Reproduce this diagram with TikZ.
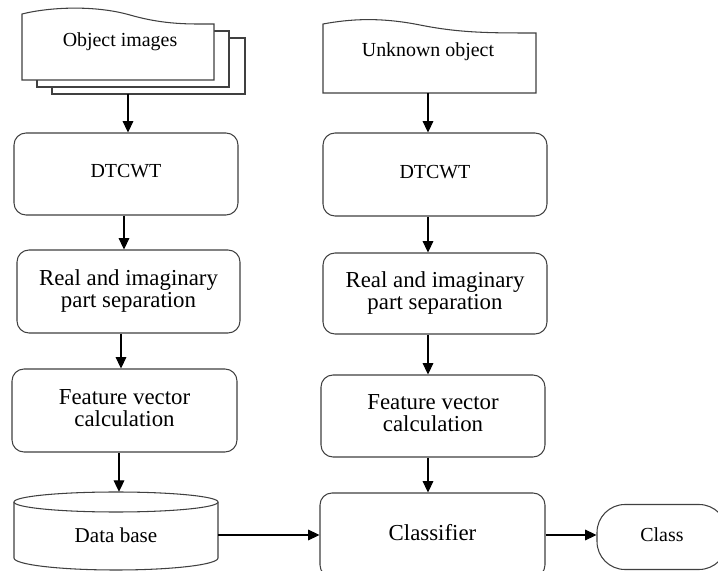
\documentclass[tikz,border=0pt]{standalone}
\usepackage{fontspec}
\setmainfont{Liberation Serif}
\usetikzlibrary{arrows.meta,shapes.misc}
\def\px{0.03cm}
\tikzset{
  >={Triangle[length=3.4mm,width=3.2mm]},
  box/.style = {draw=black!75, line width=0.9pt, rounded corners=12*\px, align=center, fill=white, inner sep=0pt, text depth=0.45em},
  big/.style = {font=\fontsize{19.5}{19}\selectfont},
  doc/.style = {draw=black!75, line width=0.9pt, fill=white},
  term/.style = {draw=black!75, line width=0.9pt, rounded corners=28*\px, align=center, fill=white, inner sep=0pt, text depth=0.4em},
  arrow/.style = {->, line width=0.9pt},
  txt/.style = {align=center, inner sep=0pt},
}

\begin{document}
\begin{tikzpicture}[x=\px, y=-\px, font=\fontsize{17}{20}\selectfont]
  \fill[white] (0,0) rectangle (718,571);
  \useasboundingbox (0,0) rectangle (718,571);
  \clip (0,0) rectangle (718,571);

  % ----------------------------------------------------------------------
  % Left column: training
  % ----------------------------------------------------------------------
  % stacked documents
  \draw[doc] (52,38) rectangle (245,94);
  \draw[doc] (37,31) rectangle (229,87);
  \draw[doc] (22,80) -- (22,14) .. controls (50,7) and (95,5) .. (130,15) .. controls (165,25) and (190,24) .. (214,24) -- (214,80) -- cycle;
  \node[txt] (objImg) at (120,42) {Object images};
  \coordinate (objBot) at (128,94);

  \node[box, minimum width=224*\px, minimum height=82*\px] (dtA) at (126,174) {DTCWT};
  \node[box, big, minimum width=223*\px, minimum height=83*\px] (reA) at (128.5,291.5) {Real and imaginary\\part separation};
  \node[box, big, minimum width=225*\px, minimum height=83*\px] (feA) at (124.5,410.5) {Feature vector\\calculation};

  % data base cylinder
  \draw[doc] (14,502) -- (14,558) arc[start angle=180, end angle=0, x radius=102, y radius=12] -- (218,502);
  \draw[doc] (116,502) ellipse [x radius=102, y radius=10];
  \node[txt, font=\fontsize{18}{20}\selectfont, minimum width=204*\px, minimum height=86*\px] (db) at (116,535) {Data base};

  % ----------------------------------------------------------------------
  % Right column: recognition
  % ----------------------------------------------------------------------
  \draw[doc] (323,93) -- (323,24) .. controls (350,19) and (380,17) .. (420,25) .. controls (460,33) and (490,33) .. (536,33) -- (536,93) -- cycle;
  \node[txt] (uo) at (428,52) {Unknown object};
  \coordinate (uoBot) at (428,93);

  \node[box, minimum width=224*\px, minimum height=83*\px] (dtB) at (435,174.5) {DTCWT};
  \node[box, big, minimum width=224*\px, minimum height=81*\px] (reB) at (435,293.5) {Real and imaginary\\part separation};
  \node[box, big, minimum width=224*\px, minimum height=82*\px] (feB) at (433,416) {Feature vector\\calculation};
  \node[box, big, minimum width=225*\px, minimum height=84*\px] (cls) at (432.5,535) {Classifier};
  \node[term, minimum width=130*\px, minimum height=65*\px] (cl) at (662,537) {Class};

  % arrows
  \draw[arrow] (objBot) -- (objBot |- dtA.north);
  \draw[arrow] (uoBot) -- (uoBot |- dtB.north);
  \foreach \a/\b/\x in {dtA/reA/124, reA/feA/121, feA/db/119, dtB/reB/428, reB/feB/428, feB/cls/428}
    \draw[arrow] (\x,0 |- \a.south) -- (\x,0 |- \b.north);
  \draw[arrow] (db.east) -- (db.east -| cls.west);
  \draw[arrow] (cls.east) -- (cls.east -| cl.west);
\end{tikzpicture}
\end{document}
